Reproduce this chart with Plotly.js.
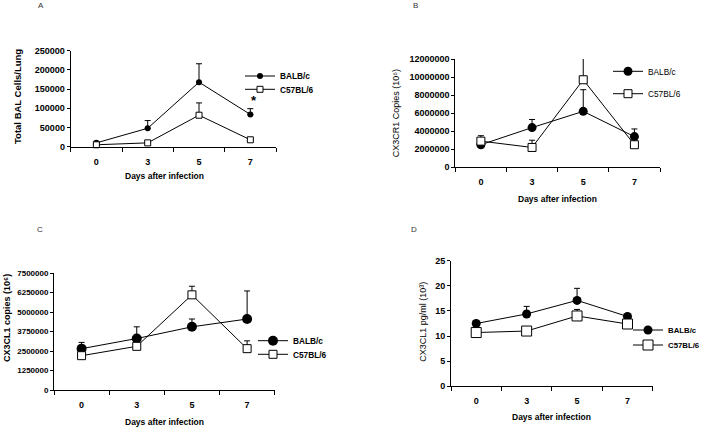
<!DOCTYPE html>
<html>
<head>
<meta charset="utf-8">
<script src="https://cdn.plot.ly/plotly-3.0.1.min.js"></script>
<style>html,body{margin:0;padding:0;background:#fff;}#chart{width:704px;height:431px;}</style>
</head>
<body>
<div id="chart"></div>
<script>
// ---- data ----
const days = ['0', '3', '5', '7'];
const seriesNames = ['BALB/c', 'C57BL/6'];

const balbA = [10000, 48000, 168000, 84000];
const balbAErr = [3000, 20000, 48000, 15000];
const c57A = [5000, 10000, 82000, 18000];
const c57AErr = [1000, 2000, 32000, 2000];

const balbB = [2500000, 4400000, 6200000, 3400000];
const balbBErr = [200000, 900000, 2400000, 850000];
const c57B = [2900000, 2200000, 9700000, 2500000];
const c57BErr = [600000, 800000, 2400000, 300000];

const balbC = [2650000, 3300000, 4050000, 4550000];
const balbCErr = [400000, 750000, 500000, 1800000];
const c57C = [2200000, 2800000, 6100000, 2650000];
const c57CErr = [100000, 100000, 550000, 500000];

const balbD = [12.5, 14.4, 17.1, 13.9];
const balbDErr = [0.3, 1.5, 2.4, 0.3];
const c57D = [10.7, 11.0, 14.0, 12.4];
const c57DErr = [0.8, 0.2, 1.3, 0.2];

const yTitles = ['Total BAL Cells/Lung', 'CX3CR1 Copies (10⁶)', 'CX3CL1 copies (10⁶)', 'CX3CL1 pg/ml (10³)'];
const xTitle = 'Days after infection';
const panelLetters = ['A', 'B', 'C', 'D'];
const starDay = '7';
const starValue = 120000;

// ---- layout helpers ----
const W = 704, H = 431;
const FONT = 'Liberation Sans, Arial, sans-serif';
const px = x => x / W;
const py = y => 1 - y / H;
const zeros = [0, 0, 0, 0];

function errs(a) {
  return {type: 'data', symmetric: false, array: a, arrayminus: zeros, color: '#000', thickness: 1, width: 3};
}

const panels = [
  {ax: '', balb: balbA, balbE: balbAErr, c57: c57A, c57E: c57AErr, dx: [70.7, 276], dy: [50.7, 146.7], range: [0, 250000], dtick: 50000, tickSize: 9,
   msB: 6, msC: 6, legB: [240, 76], legC: [240, 89.3], legBold: true, legSize: 8.3,
   xt: [164, 175.7], yt: [18, 97], ytBold: true, ytSize: 9.5, letter: [40.7, 6]},
  {ax: '2', balb: balbB, balbE: balbBErr, c57: c57B, c57E: c57BErr, dx: [455.3, 660], dy: [59, 167.3], range: [0, 12000000], dtick: 2000000, tickSize: 9,
   msB: 9, msC: 8, legB: [608, 71.3], legC: [608, 93.7], legBold: false, legSize: 8.3,
   xt: [557.7, 199.3], yt: [396.3, 113], ytBold: false, ytSize: 9, letter: [415, 6]},
  {ax: '3', balb: balbC, balbE: balbCErr, c57: c57C, c57E: c57CErr, dx: [54, 274.7], dy: [273, 390], range: [0, 7500000], dtick: 1250000, tickSize: 8,
   msB: 10, msC: 8, legB: [253, 340.7], legC: [253, 354.3], legBold: true, legSize: 8.3,
   xt: [164, 421.7], yt: [7, 318], ytBold: true, ytSize: 9, letter: [40, 230]},
  {ax: '4', balb: balbD, balbE: balbDErr, c57: c57D, c57E: c57DErr, dx: [451, 652.7], dy: [260.7, 386.3], range: [0, 25], dtick: 5, tickSize: 9,
   msB: 9, msC: 10, legB: [628, 330], legC: [628, 345], legBold: true, legSize: 7.8,
   xt: [551.3, 417], yt: [422.7, 322], ytBold: false, ytSize: 9, letter: [414, 230]}
];

const traces = [];
const layout = {
  width: W, height: H,
  margin: {l: 0, r: 0, t: 0, b: 0, autoexpand: false},
  paper_bgcolor: '#fff', plot_bgcolor: 'rgba(0,0,0,0)',
  font: {family: FONT, color: '#000', size: 9},
  showlegend: true,
  annotations: [],
  shapes: []
};

panels.forEach((p, i) => {
  const xa = 'x' + p.ax, ya = 'y' + p.ax;
  const lb = 'legend' + (i * 2 === 0 ? '' : (i * 2 + 1));
  const lc = 'legend' + (i * 2 + 2);
  traces.push({
    type: 'scatter', mode: 'lines+markers', name: seriesNames[0], x: days, y: p.balb,
    xaxis: xa, yaxis: ya, legend: lb,
    line: {color: '#000', width: 1},
    marker: {symbol: 'circle', size: p.msB, color: '#000'},
    error_y: errs(p.balbE), cliponaxis: false
  });
  traces.push({
    type: 'scatter', mode: 'lines+markers', name: seriesNames[1], x: days, y: p.c57,
    xaxis: xa, yaxis: ya, legend: lc,
    line: {color: '#000', width: 1},
    marker: {symbol: 'square', size: p.msC, color: '#fff', line: {color: '#000', width: 1}},
    error_y: errs(p.c57E), cliponaxis: false
  });
  const axKeyX = 'xaxis' + p.ax, axKeyY = 'yaxis' + p.ax;
  layout[axKeyX] = {
    domain: [px(p.dx[0]), px(p.dx[1])], anchor: ya, type: 'category',
    range: [-0.5, 3.5], showgrid: false, zeroline: false,
    showline: true, linecolor: '#000', linewidth: 1,
    ticks: 'outside', tickson: 'boundaries', ticklen: 4, tickcolor: '#000',
    ticklabelstandoff: 6, automargin: false,
    tickfont: {family: FONT, size: 9, weight: 'bold', color: '#000'},
    fixedrange: true
  };
  layout[axKeyY] = {
    domain: [py(p.dy[1]), py(p.dy[0])], anchor: xa,
    range: p.range, dtick: p.dtick, tick0: 0, tickformat: 'd',
    showgrid: false, zeroline: false, automargin: false,
    showline: true, linecolor: '#000', linewidth: 1,
    ticks: 'outside', ticklen: 3, tickcolor: '#000',
    tickfont: {family: FONT, size: p.tickSize, weight: 'bold', color: '#000'},
    fixedrange: true
  };
  const legFont = {family: FONT, size: p.legSize, weight: p.legBold ? 'bold' : 'normal', color: '#000'};
  layout[lb] = {x: px(p.legB[0]), y: py(p.legB[1]), xanchor: 'left', yanchor: 'middle', bgcolor: 'rgba(0,0,0,0)', font: legFont, itemwidth: 30};
  layout[lc] = {x: px(p.legC[0]), y: py(p.legC[1]), xanchor: 'left', yanchor: 'middle', bgcolor: 'rgba(0,0,0,0)', font: legFont, itemwidth: 30};

  layout.annotations.push({
    text: xTitle, xref: 'paper', yref: 'paper', x: px(p.xt[0]), y: py(p.xt[1]),
    xanchor: 'center', yanchor: 'middle', showarrow: false,
    font: {family: FONT, size: 8.5, weight: 'bold', color: '#000'}
  });
  layout.annotations.push({
    text: yTitles[i], xref: 'paper', yref: 'paper', x: px(p.yt[0]), y: py(p.yt[1]),
    xanchor: 'center', yanchor: 'middle', showarrow: false, textangle: -90,
    font: {family: FONT, size: p.ytSize, weight: p.ytBold ? 'bold' : 'normal', color: '#000'}
  });
  layout.annotations.push({
    text: panelLetters[i], xref: 'paper', yref: 'paper', x: px(p.letter[0]), y: py(p.letter[1]),
    xanchor: 'center', yanchor: 'middle', showarrow: false,
    font: {family: FONT, size: 8, color: '#333'}
  });
});

// significance star on panel A, day 7 (category index)
layout.annotations.push({
  text: '*', xref: 'x', yref: 'y', x: days.indexOf(starDay), y: starValue, xshift: 4,
  xanchor: 'center', yanchor: 'middle', showarrow: false,
  font: {family: FONT, size: 13, weight: 'bold', color: '#000'}
});

Plotly.newPlot('chart', traces, layout, {staticPlot: true, displayModeBar: false});
</script>
</body>
</html>
